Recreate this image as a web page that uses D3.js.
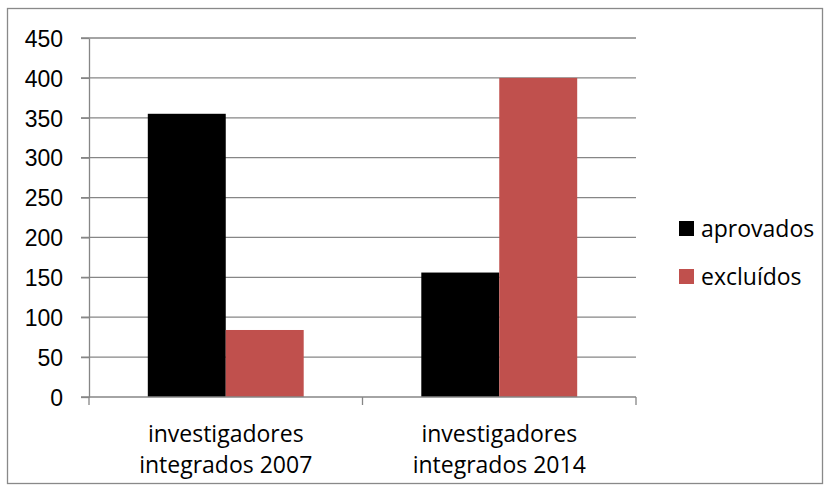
<!DOCTYPE html>
<html lang="pt">
<head>
    <meta charset="UTF-8">
    <title>Investigadores</title>
    <script src="https://cdn.jsdelivr.net/npm/d3@7.8.4/dist/d3.min.js"></script>
    <style>
        body { margin: 0; background: #fff; }
        svg { display: block; font-family: "Open Sans", sans-serif; }
        .grid line { stroke: #868686; stroke-width: 1.3px; }
        .axis path, .axis line { stroke: #868686; stroke-width: 1.3px; }
        .axis text { fill: #000; font-size: 23px; }
    </style>
</head>
<body>
    <svg id="chart" width="830" height="491"></svg>
    <script>
        // Data
        const categories = [["investigadores", "integrados 2007"], ["investigadores", "integrados 2014"]];
        const seriesNames = ["aprovados", "excluídos"];
        const aprovados = [355, 156];
        const excluidos = [84, 400];
        const colors = ["#000000", "#C0504D"];
        const yTicks = [0, 50, 100, 150, 200, 250, 300, 350, 400, 450];

        const svg = d3.select("#chart");
        const width = 830, height = 491;
        const margin = { left: 89, right: 194, top: 38, bottom: 94 };

        // outer frame
        svg.append("rect")
            .attr("x", 7.5).attr("y", 8.5)
            .attr("width", width - 15).attr("height", height - 16)
            .attr("fill", "#fff").attr("stroke", "#898989").attr("stroke-width", 1.3);

        const x = d3.scaleBand()
            .domain(d3.range(categories.length))
            .range([margin.left, width - margin.right])
            .paddingInner(0.43).paddingOuter(0.215);

        const x1 = d3.scaleBand()
            .domain(d3.range(seriesNames.length))
            .range([0, x.bandwidth()]);

        const y = d3.scaleLinear()
            .domain([0, 450])
            .range([height - margin.bottom, margin.top]);

        // gridlines
        svg.append("g").attr("class", "grid")
            .selectAll("line")
            .data(yTicks.filter(t => t > 0))
            .enter().append("line")
            .attr("x1", margin.left - 8).attr("x2", width - margin.right)
            .attr("y1", d => y(d)).attr("y2", d => y(d));

        // y axis
        const yAxis = svg.append("g").attr("class", "axis")
            .attr("transform", `translate(${margin.left},0)`)
            .call(d3.axisLeft(y).tickValues(yTicks).tickSize(8).tickSizeOuter(0).tickPadding(18));
        yAxis.selectAll("text").attr("dy", "0.36em");

        // bars
        const series = [aprovados, excluidos];
        series.forEach((vals, s) => {
            svg.append("g")
                .selectAll("rect")
                .data(vals)
                .enter().append("rect")
                .attr("x", (d, i) => x(i) + x1(s))
                .attr("width", x1.bandwidth())
                .attr("y", d => y(d))
                .attr("height", d => y(0) - y(d))
                .attr("fill", colors[s]);
        });

        // x axis with ticks at band boundaries
        const x0 = y(0);
        const xAxis = svg.append("g").attr("class", "axis");
        xAxis.append("line")
            .attr("x1", margin.left - 8).attr("x2", width - margin.right)
            .attr("y1", x0).attr("y2", x0);
        const step = (width - margin.right - margin.left) / categories.length;
        xAxis.selectAll("line.tick")
            .data(d3.range(categories.length + 1))
            .enter().append("line")
            .attr("class", "tick")
            .attr("x1", i => margin.left + i * step).attr("x2", i => margin.left + i * step)
            .attr("y1", x0).attr("y2", x0 + 8);

        // category labels
        const labels = svg.append("g").attr("class", "axis");
        categories.forEach((lines, i) => {
            const t = labels.append("text")
                .attr("text-anchor", "middle")
                .attr("x", x(i) + x.bandwidth() / 2)
                .attr("y", 442);
            lines.forEach((ln, k) => {
                t.append("tspan")
                    .attr("x", x(i) + x.bandwidth() / 2)
                    .attr("dy", k === 0 ? 0 : 31)
                    .text(ln);
            });
        });

        // legend
        const legend = svg.append("g").attr("transform", "translate(679,221)");
        seriesNames.forEach((name, i) => {
            const g = legend.append("g").attr("transform", `translate(0,${i * 48})`);
            g.append("rect").attr("width", 15).attr("height", 15).attr("fill", colors[i]);
            g.append("text")
                .attr("x", 22).attr("y", 7.5).attr("dy", "0.36em")
                .style("font-size", "23px")
                .text(name);
        });
    </script>
</body>
</html>
